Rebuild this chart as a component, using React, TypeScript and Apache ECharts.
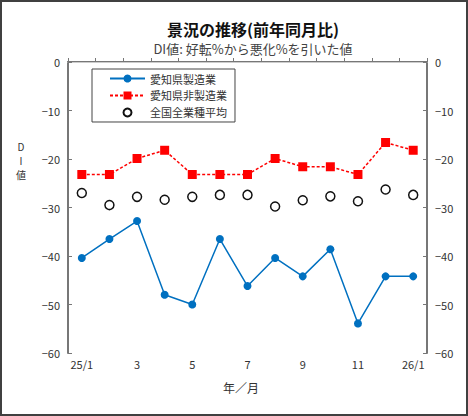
// 景況の推移 chart using ECharts

import { useEffect, useRef } from 'react';
import * as echarts from 'echarts';

const months = ['25/1', '2', '3', '4', '5', '6', '7', '8', '9', '10', '11', '12', '26/1'];
const aichiMfg = [-40.4, -36.5, -32.8, -48.0, -50.0, -36.5, -46.2, -40.4, -44.2, -38.6, -53.9, -44.2, -44.2];
const aichiNonMfg = [-23.2, -23.2, -19.9, -18.2, -23.2, -23.2, -23.2, -19.9, -21.6, -21.6, -23.2, -16.6, -18.2];
const nationalAvg = [-27.0, -29.5, -27.8, -28.4, -27.8, -27.4, -27.4, -29.8, -28.5, -27.7, -28.7, -26.3, -27.4];

const FONT = '"Noto Sans CJK JP", "Noto Sans", sans-serif';

export default function App() {
    const chartRef = useRef<HTMLDivElement>(null);

    useEffect(() => {
        if (!chartRef.current) return;
        document.body.style.margin = '0';
        const chart = echarts.init(chartRef.current, undefined, { renderer: 'svg' });

        const valueAxis = (position: 'left' | 'right') => ({
            type: 'value' as const,
            position,
            min: -60,
            max: 0,
            interval: 10,
            axisLine: { show: true, lineStyle: { color: '#777', width: 2 } },
            axisTick: { show: true, inside: true, length: 4, lineStyle: { color: '#777' } },
            axisLabel: {
                color: '#333',
                fontSize: 11,
                fontFamily: FONT,
                margin: 8,
                formatter: (v: number) => String(v).replace('-', '−'),
            },
            splitLine: { show: false },
        });

        const yNameChars = ['D', 'I', '値'];

        const option: echarts.EChartsOption = {
            animation: false,
            backgroundColor: '#fff',
            title: [
                {
                    text: '景況の推移(前年同月比)',
                    left: 248,
                    top: 16,
                    textAlign: 'center',
                    textStyle: { fontSize: 16, fontWeight: 'bold', color: '#111', fontFamily: FONT },
                },
                {
                    text: 'DI値: 好転%から悪化%を引いた値',
                    left: 248,
                    top: 37,
                    textAlign: 'center',
                    textStyle: { fontSize: 13, fontWeight: 'normal', color: '#444', fontFamily: FONT },
                },
            ],
            legend: {
                orient: 'vertical',
                left: 92,
                top: 69,
                itemWidth: 35,
                itemHeight: 10,
                itemGap: 6,
                padding: [4, 8, 4, 17],
                borderColor: '#444',
                borderWidth: 1,
                textStyle: { fontSize: 11, color: '#333', fontFamily: FONT },
                data: ['愛知県製造業', '愛知県非製造業', '全国全業種平均'],
            },
            grid: { left: 68, right: 41, top: 62, bottom: 63 },
            xAxis: [
                {
                    type: 'category',
                    data: months,
                    boundaryGap: true,
                    axisLine: { lineStyle: { color: '#777', width: 2 } },
                    axisTick: { show: true, inside: true, length: 4, interval: 0, lineStyle: { color: '#777' } },
                    axisLabel: {
                        interval: 1,
                        color: '#333',
                        fontSize: 11,
                        fontFamily: FONT,
                        margin: 5,
                    },
                },
                {
                    type: 'category',
                    data: months,
                    position: 'top',
                    axisLine: { lineStyle: { color: '#ccc', width: 1 } },
                    axisTick: { show: false },
                    axisLabel: { show: false },
                },
            ],
            yAxis: [valueAxis('left'), valueAxis('right')],
            graphic: [
                {
                    type: 'rect',
                    shape: { x: 1, y: 1, width: 466, height: 414 },
                    style: { fill: 'none', stroke: '#404040', lineWidth: 2 },
                    silent: true,
                },
                ...yNameChars.map((ch, i) => ({
                    type: 'text' as const,
                    x: 21,
                    y: 146 + i * 14,
                    style: {
                        text: ch,
                        fontSize: 10,
                        lineHeight: 12,
                        align: 'center' as const,
                        verticalAlign: 'middle' as const,
                        fill: '#333',
                        fontFamily: FONT,
                    },
                })),
                {
                    type: 'text',
                    x: 241,
                    y: 387,
                    style: {
                        text: '年／月',
                        fontSize: 12,
                        align: 'center',
                        verticalAlign: 'middle',
                        fill: '#333',
                        fontFamily: FONT,
                    },
                },
            ],
            series: [
                {
                    name: '愛知県製造業',
                    type: 'line',
                    data: aichiMfg,
                    symbol: 'circle',
                    symbolSize: 8,
                    itemStyle: { color: '#0070C0' },
                    lineStyle: { color: '#0070C0', width: 1.5 },
                },
                {
                    name: '愛知県非製造業',
                    type: 'line',
                    data: aichiNonMfg,
                    symbol: 'rect',
                    symbolSize: 9,
                    itemStyle: { color: '#FF0000' },
                    lineStyle: { color: '#FF0000', width: 1.5, type: [3, 2] },
                },
                {
                    name: '全国全業種平均',
                    type: 'line',
                    data: nationalAvg,
                    symbol: 'circle',
                    symbolSize: 9,
                    showAllSymbol: true,
                    itemStyle: { color: '#fff', borderColor: '#111', borderWidth: 1.5 },
                    lineStyle: { width: 0, opacity: 0 },
                },
            ],
        };

        chart.setOption(option, { notMerge: true });

        return () => {
            chart.dispose();
        };
    }, []);

    return <div ref={chartRef} style={{ width: '468px', height: '416px' }} />;
}
